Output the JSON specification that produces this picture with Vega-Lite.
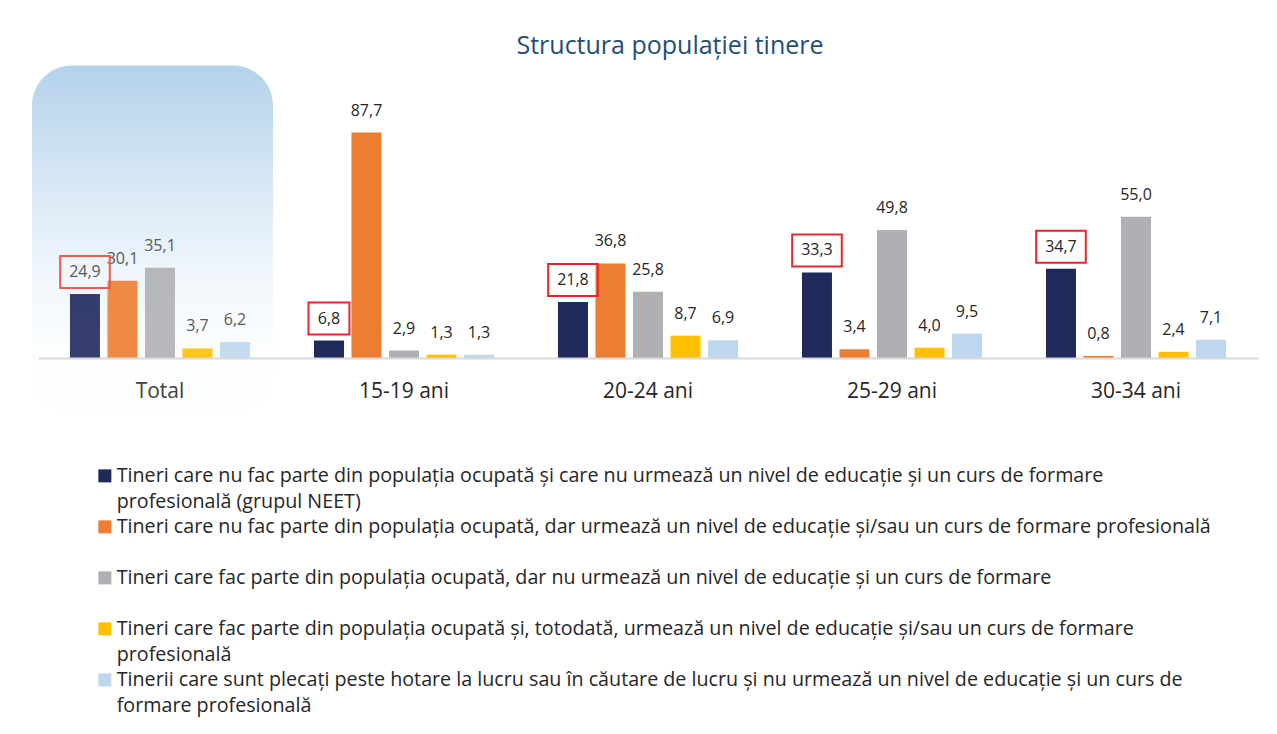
{
  "$schema": "https://vega.github.io/schema/vega-lite/v6.json",
  "autosize": {"type": "none"},
  "width": 1220,
  "height": 257,
  "padding": {"left": 38, "top": 101, "right": 19, "bottom": 376},
  "background": "white",
  "title": {
    "text": "Structura populației tinere",
    "font": "Open Sans",
    "fontSize": 25,
    "fontWeight": "normal",
    "color": "#1f4e79",
    "anchor": "middle",
    "frame": "group",
    "baseline": "alphabetic",
    "offset": -13,
    "dx": 22
  },
  "data": {
    "values": [
      {"group": "Total", "series": "Tineri care nu fac parte din populația ocupată și care nu urmează un nivel de educație și un curs de formare profesională (grupul NEET)", "value": 24.9},
      {"group": "Total", "series": "Tineri care nu fac parte din populația ocupată, dar urmează un nivel de educație și/sau un curs de formare profesională", "value": 30.1},
      {"group": "Total", "series": "Tineri care fac parte din populația ocupată, dar nu urmează un nivel de educație și un curs de formare", "value": 35.1},
      {"group": "Total", "series": "Tineri care fac parte din populația ocupată și, totodată, urmează un nivel de educație și/sau un curs de formare profesională", "value": 3.7},
      {"group": "Total", "series": "Tinerii care sunt plecați peste hotare la lucru sau în căutare de lucru și nu urmează un nivel de educație și un curs de formare profesională", "value": 6.2},
      {"group": "15-19 ani", "series": "Tineri care nu fac parte din populația ocupată și care nu urmează un nivel de educație și un curs de formare profesională (grupul NEET)", "value": 6.8},
      {"group": "15-19 ani", "series": "Tineri care nu fac parte din populația ocupată, dar urmează un nivel de educație și/sau un curs de formare profesională", "value": 87.7},
      {"group": "15-19 ani", "series": "Tineri care fac parte din populația ocupată, dar nu urmează un nivel de educație și un curs de formare", "value": 2.9},
      {"group": "15-19 ani", "series": "Tineri care fac parte din populația ocupată și, totodată, urmează un nivel de educație și/sau un curs de formare profesională", "value": 1.3},
      {"group": "15-19 ani", "series": "Tinerii care sunt plecați peste hotare la lucru sau în căutare de lucru și nu urmează un nivel de educație și un curs de formare profesională", "value": 1.3},
      {"group": "20-24 ani", "series": "Tineri care nu fac parte din populația ocupată și care nu urmează un nivel de educație și un curs de formare profesională (grupul NEET)", "value": 21.8},
      {"group": "20-24 ani", "series": "Tineri care nu fac parte din populația ocupată, dar urmează un nivel de educație și/sau un curs de formare profesională", "value": 36.8},
      {"group": "20-24 ani", "series": "Tineri care fac parte din populația ocupată, dar nu urmează un nivel de educație și un curs de formare", "value": 25.8},
      {"group": "20-24 ani", "series": "Tineri care fac parte din populația ocupată și, totodată, urmează un nivel de educație și/sau un curs de formare profesională", "value": 8.7},
      {"group": "20-24 ani", "series": "Tinerii care sunt plecați peste hotare la lucru sau în căutare de lucru și nu urmează un nivel de educație și un curs de formare profesională", "value": 6.9},
      {"group": "25-29 ani", "series": "Tineri care nu fac parte din populația ocupată și care nu urmează un nivel de educație și un curs de formare profesională (grupul NEET)", "value": 33.3},
      {"group": "25-29 ani", "series": "Tineri care nu fac parte din populația ocupată, dar urmează un nivel de educație și/sau un curs de formare profesională", "value": 3.4},
      {"group": "25-29 ani", "series": "Tineri care fac parte din populația ocupată, dar nu urmează un nivel de educație și un curs de formare", "value": 49.8},
      {"group": "25-29 ani", "series": "Tineri care fac parte din populația ocupată și, totodată, urmează un nivel de educație și/sau un curs de formare profesională", "value": 4.0},
      {"group": "25-29 ani", "series": "Tinerii care sunt plecați peste hotare la lucru sau în căutare de lucru și nu urmează un nivel de educație și un curs de formare profesională", "value": 9.5},
      {"group": "30-34 ani", "series": "Tineri care nu fac parte din populația ocupată și care nu urmează un nivel de educație și un curs de formare profesională (grupul NEET)", "value": 34.7},
      {"group": "30-34 ani", "series": "Tineri care nu fac parte din populația ocupată, dar urmează un nivel de educație și/sau un curs de formare profesională", "value": 0.8},
      {"group": "30-34 ani", "series": "Tineri care fac parte din populația ocupată, dar nu urmează un nivel de educație și un curs de formare", "value": 55.0},
      {"group": "30-34 ani", "series": "Tineri care fac parte din populația ocupată și, totodată, urmează un nivel de educație și/sau un curs de formare profesională", "value": 2.4},
      {"group": "30-34 ani", "series": "Tinerii care sunt plecați peste hotare la lucru sau în căutare de lucru și nu urmează un nivel de educație și un curs de formare profesională", "value": 7.1}
    ]
  },
  "encoding": {
    "x": {
      "field": "group",
      "type": "nominal",
      "sort": null,
      "scale": {"domain": ["Total", "15-19 ani", "20-24 ani", "25-29 ani", "30-34 ani"], "paddingInner": 0.262, "paddingOuter": 0.131},
      "axis": {
        "title": null,
        "labelAngle": 0,
        "ticks": false,
        "zindex": 1,
        "domainColor": "#d9d9d9",
        "domainWidth": 2,
        "labelFont": "Open Sans",
        "labelFontSize": 21,
        "labelPadding": 22,
        "labelColor": {"condition": {"test": "datum.value === 'Total'", "value": "#404040"}, "value": "#262626"}
      }
    },
    "y": {
      "field": "value",
      "type": "quantitative",
      "scale": {"domain": [0, 100], "nice": false},
      "axis": null
    }
  },
  "layer": [
    {
      "data": {"values": [{"group": "Total", "top": 113.8, "bottom": -23}]},
      "mark": {
        "type": "bar",
        "cornerRadius": 40,
        "xOffset": -7.5,
        "width": 241,
        "color": {
          "gradient": "linear",
          "x1": 0, "y1": 0, "x2": 0, "y2": 1,
          "stops": [
            {"offset": 0, "color": "#b4d2eb"},
            {"offset": 0.3, "color": "#d4e5f4"},
            {"offset": 0.6, "color": "#f1f7fc"},
            {"offset": 0.8, "color": "#fbfdfe"},
            {"offset": 1, "color": "#ffffff"}
          ]
        }
      },
      "encoding": {
        "x": {"field": "group", "type": "nominal"},
        "y": {"field": "top", "type": "quantitative"},
        "y2": {"field": "bottom"}
      }
    },
    {
      "mark": {"type": "bar"},
      "encoding": {
        "xOffset": {"field": "series", "type": "nominal", "sort": null, "scale": {"paddingInner": 0.2, "paddingOuter": 0}},
        "color": {
          "field": "series",
          "type": "nominal",
          "scale": {
            "domain": [
              "Tineri care nu fac parte din populația ocupată și care nu urmează un nivel de educație și un curs de formare profesională (grupul NEET)",
              "Tineri care nu fac parte din populația ocupată, dar urmează un nivel de educație și/sau un curs de formare profesională",
              "Tineri care fac parte din populația ocupată, dar nu urmează un nivel de educație și un curs de formare",
              "Tineri care fac parte din populația ocupată și, totodată, urmează un nivel de educație și/sau un curs de formare profesională",
              "Tinerii care sunt plecați peste hotare la lucru sau în căutare de lucru și nu urmează un nivel de educație și un curs de formare profesională"
            ],
            "range": ["#1f295c", "#ed7d31", "#afb0b4", "#ffc000", "#bdd7ee"]
          },
          "legend": {
            "orient": "none",
            "legendX": 57,
            "legendY": 371,
            "direction": "vertical",
            "title": null,
            "padding": 0,
            "symbolType": "M-1,-1.92H1V0.08H-1Z",
            "symbolSize": 169,
            "symbolStrokeWidth": 0,
            "labelFont": "Open Sans",
            "labelFontSize": 19.7,
            "labelColor": "#262626",
            "labelLimit": 3000,
            "labelOffset": 2,
            "labelBaseline": "alphabetic",
            "gridAlign": "all",
            "rowPadding": 4,
            "labelExpr": "split(replace(replace(replace(datum.label, 'formare profesională (grupul NEET)', 'formare|profesională (grupul NEET)'), 'totodată, urmează un nivel de educație și/sau un curs de formare profesională', 'totodată, urmează un nivel de educație și/sau un curs de formare|profesională'), 'lucru și nu urmează un nivel de educație și un curs de formare', 'lucru și nu urmează un nivel de educație și un curs de|formare'), '|')"
          }
        },
        "opacity": {"condition": {"test": "datum.group === 'Total'", "value": 0.9}, "value": 1}
      }
    },
    {
      "mark": {"type": "text", "dy": -22, "baseline": "middle", "font": "Open Sans", "fontSize": 16},
      "encoding": {
        "xOffset": {"field": "series", "type": "nominal", "sort": null},
        "text": {"field": "value", "type": "quantitative", "format": ".1f"},
        "color": {"condition": {"test": "datum.group === 'Total'", "value": "#595959"}, "value": "#262626"}
      }
    },
    {
      "transform": [{"filter": {"field": "series", "equal": "Tineri care nu fac parte din populația ocupată și care nu urmează un nivel de educație și un curs de formare profesională (grupul NEET)"}}],
      "mark": {"type": "point", "filled": false, "size": 1024, "yOffset": -22, "strokeWidth": 2, "opacity": 1},
      "encoding": {
        "xOffset": {"field": "series", "type": "nominal", "sort": null},
        "shape": {"condition": {"test": "datum.value < 10", "value": "M-1.28,-1H1.28V1H-1.28Z"}, "value": "M-1.55,-1H1.55V1H-1.55Z"},
        "stroke": {"condition": {"test": "datum.group === 'Total'", "value": "#ec5a4a"}, "value": "#e5262a"}
      }
    }
  ],
  "config": {
    "view": {"stroke": null},
    "locale": {"number": {"decimal": ",", "thousands": ".", "grouping": [3], "currency": ["", ""]}},
    "style": {"guide-label": {"lineHeight": 26}}
  }
}
